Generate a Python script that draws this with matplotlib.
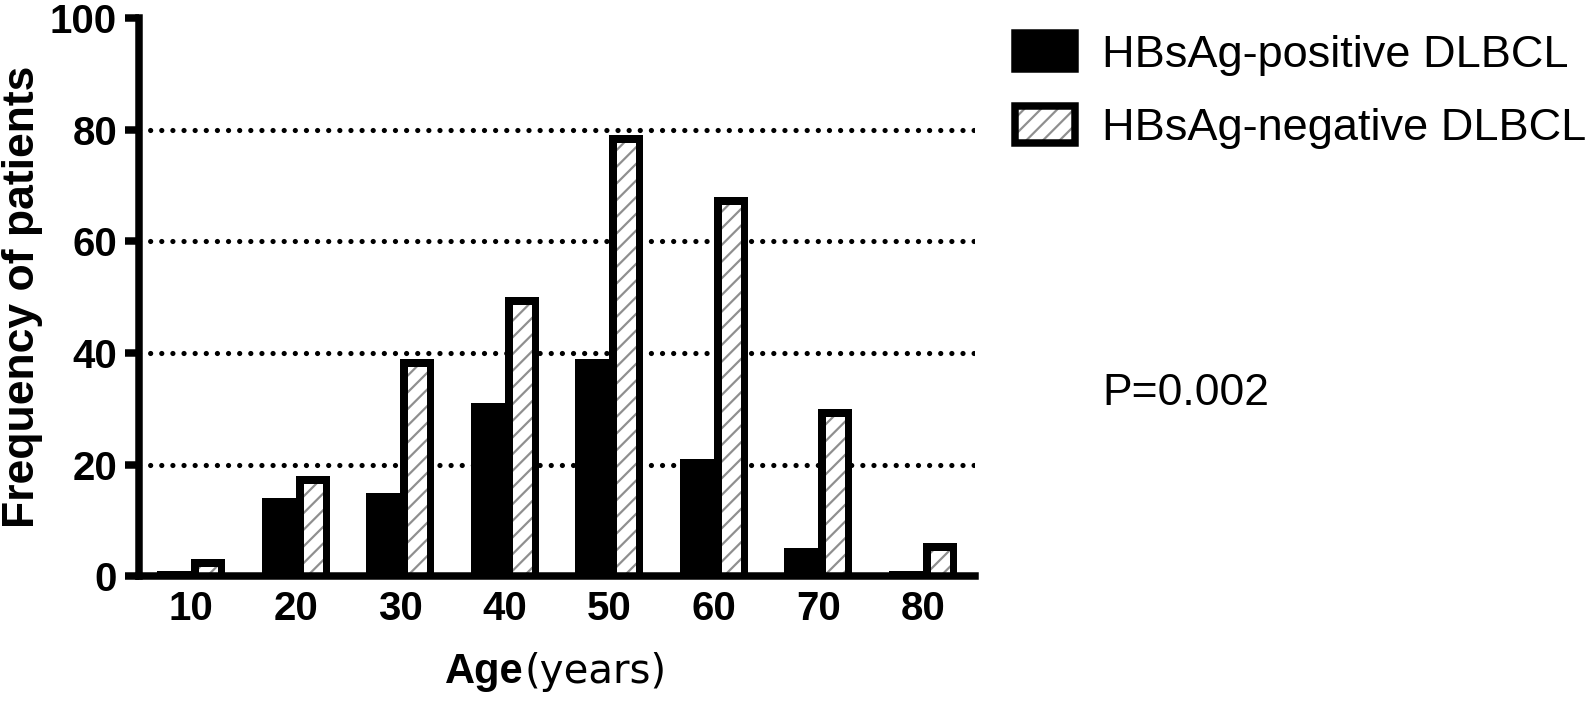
import numpy as np
import matplotlib
matplotlib.use("Agg")
import matplotlib.pyplot as plt
from matplotlib.patches import Patch
from matplotlib.legend_handler import HandlerTuple

ages = ["10", "20", "30", "40", "50", "60", "70", "80"]
hbsag_pos = [1, 14, 15, 31, 39, 21, 5, 1]
hbsag_neg = [3, 18, 39, 50, 79, 68, 30, 6]
y_ticks = [0, 20, 40, 60, 80, 100]
grid_levels = [20, 40, 60, 80]
labels = ["HBsAg-positive DLBCL", "HBsAg-negative DLBCL"]

plt.rcParams["font.family"] = ["Liberation Sans", "DejaVu Sans"]

DPI = 100
px = 72.0 / DPI  # points per pixel
LW = 7.5 * px    # thick black lines
plt.rcParams["hatch.linewidth"] = 2.2 * px
HATCH_GRAY = "#8f8f8f"

fig = plt.figure(figsize=(15.92, 7.04), dpi=DPI)
ax = fig.add_axes([139 / 1592, (704 - 576.2) / 704, 836 / 1592, 557.9 / 704])

idx = np.arange(len(ages))
w = 0.325

# dotted grid behind the bars
for lvl in grid_levels:
    ax.axhline(lvl, color="black", lw=5.2 * px, linestyle=(0, (0.01, 2.13)),
               dash_capstyle="round", zorder=0.5)

ax.bar(idx - w / 2, hbsag_pos, w, color="black", linewidth=0, zorder=1)
fill = ax.bar(idx + w / 2, hbsag_neg, w, facecolor="white", edgecolor=HATCH_GRAY,
              hatch="//", linewidth=0, zorder=1)
# border drawn inside the bar: clipped to the filled bar, bottom edge hidden
border = ax.bar(idx + w / 2, np.array(hbsag_neg) + 2, w, bottom=-2,
                facecolor="none", edgecolor="black", linewidth=2 * LW, zorder=1.1)
for b, f in zip(border, fill):
    b.set_clip_path(f)

ax.set_xlim(-0.5, 7.5)
ax.set_ylim(0, 100)
ax.set_xticks(idx)
ax.set_xticklabels(ages)
ax.set_yticks(y_ticks)

for s in ["top", "right"]:
    ax.spines[s].set_visible(False)
for s in ["left", "bottom"]:
    ax.spines[s].set_linewidth(LW)
    ax.spines[s].set_capstyle("projecting")

ax.tick_params(axis="y", direction="out", length=14 * px, width=LW, pad=8 * px)
ax.tick_params(axis="x", length=0, pad=14 * px)
for t in ax.get_xticklabels() + ax.get_yticklabels():
    t.set_fontsize(29)
    t.set_fontweight("bold")

ax.set_ylabel("Frequency of patients", fontsize=32, fontweight="bold")
ax.yaxis.set_label_coords(-0.115, 0.5)

fig.text(524 / 1592, (704 - 683) / 704, "Age", fontsize=30, fontweight="bold",
         ha="right", va="baseline")
fig.text(525 / 1592, (704 - 683) / 704, "(years)", fontsize=29,
         family="DejaVu Sans", ha="left", va="baseline")

fig.text(1102 / 1592, (704 - 405) / 704, "P=0.002", fontsize=32, ha="left", va="baseline")

h_pos = Patch(facecolor="black", edgecolor="black", linewidth=LW)
h_neg_fill = Patch(facecolor="white", edgecolor=HATCH_GRAY, hatch="//", linewidth=0)
h_neg_edge = Patch(facecolor="none", edgecolor="black", linewidth=LW)
fig.legend([h_pos, (h_neg_fill, h_neg_edge)], labels,
           handler_map={tuple: HandlerTuple(ndivide=1, pad=0)},
           loc="upper left", bbox_to_anchor=(1015 / 1592, (704 - 33) / 704),
           frameon=False, fontsize=32.5, borderpad=0, borderaxespad=0,
           handlelength=1.34, handleheight=0.86, handletextpad=0.58,
           labelspacing=0.68)

fig.savefig("out.png", dpi=DPI)
